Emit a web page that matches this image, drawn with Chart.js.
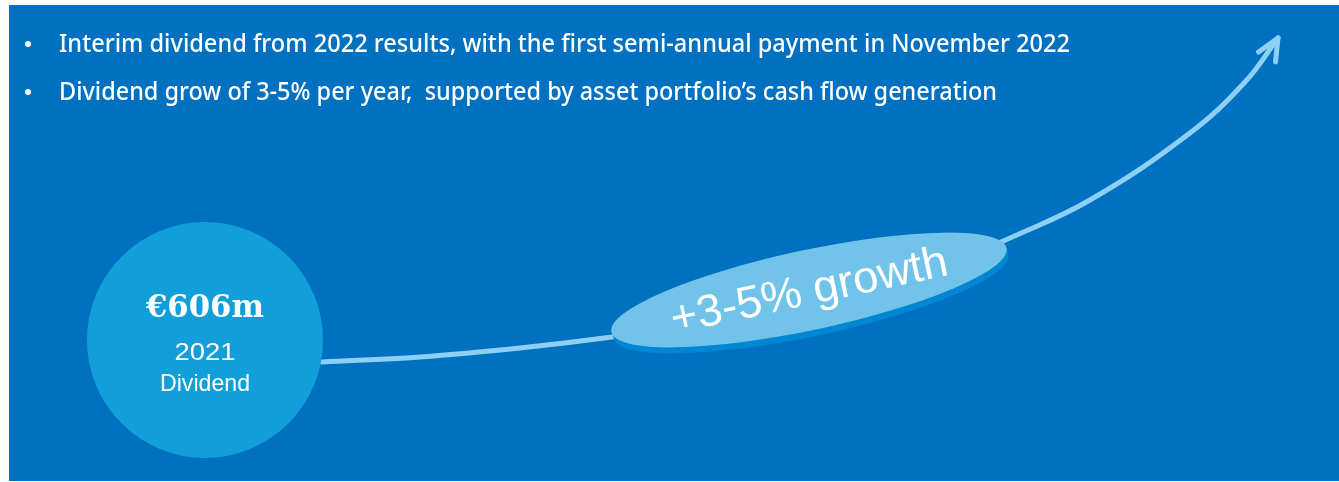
<!DOCTYPE html>
<html>
<head>
<meta charset="utf-8">
<script src="https://cdn.jsdelivr.net/npm/chart.js@4/dist/chart.umd.min.js"></script>
<style>
  html, body { margin: 0; padding: 0; background: #ffffff; }
  #wrap { width: 1339px; height: 482px; position: relative; }
</style>
</head>
<body>
<div id="wrap"><canvas id="c" width="1339" height="482"></canvas></div>
<script>
// ---- content ----
const headlines = [
  "Interim dividend from 2022 results, with the first semi-annual payment in November 2022",
  "Dividend grow of 3-5% per year,  supported by asset portfolio\u2019s cash flow generation"
];
const dividendValue = ["\u20AC606m"];
const dividendLabel = ["2021", "Dividend"];
const growthLabel = ["+3-5% growth"];

// ---- path of the growth arrow (canvas-unit coordinates) ----
const startPoint = [{ x: 205, y: 340 }];
const curveBefore = [
  { x: 322, y: 362 }, { x: 420, y: 357 }, { x: 520, y: 348 }, { x: 612, y: 337 }, { x: 660, y: 329 }
];
const curveAfter = [
  { x: 960, y: 259 }, { x: 1010, y: 238 }, { x: 1090, y: 200 },
  { x: 1190, y: 133 }, { x: 1245, y: 82 }, { x: 1278, y: 38 }
];
const growthBadge = [{ x: 809, y: 290 }];

const BG = '#0070C0';
const LINE = '#8DD0F4';

function fitText(ctx, text, x, y, font, targetW, align) {
  ctx.save();
  ctx.font = font;
  const w = ctx.measureText(text).width;
  const s = targetW ? targetW / w : 1;
  ctx.translate(x, y);
  ctx.scale(s, 1);
  ctx.textAlign = align || 'left';
  ctx.fillText(text, 0, 0);
  ctx.restore();
}

const deco = {
  id: 'deco',
  beforeDraw(chart) {
    const ctx = chart.ctx, sx = chart.scales.x, sy = chart.scales.y;
    ctx.save();
    ctx.fillStyle = '#ffffff';
    ctx.fillRect(0, 0, chart.width, chart.height);
    ctx.fillStyle = BG;
    const x0 = sx.getPixelForValue(9), y0 = sy.getPixelForValue(5);
    const x1 = sx.getPixelForValue(1339), y1 = sy.getPixelForValue(481);
    ctx.fillRect(x0, y0, x1 - x0, y1 - y0);
    ctx.restore();
  },
  afterDatasetsDraw(chart) {
    const ctx = chart.ctx, sx = chart.scales.x, sy = chart.scales.y;
    const px = v => sx.getPixelForValue(v), py = v => sy.getPixelForValue(v);

    // arrow head
    const n = curveAfter.length;
    const tip = curveAfter[n - 1];
    const tx = px(tip.x), ty = py(tip.y);
    const back = 120 * Math.PI / 180;
    const half = 0.42, len = 24;
    ctx.save();
    ctx.strokeStyle = LINE;
    ctx.lineWidth = 5;
    ctx.lineCap = 'round';
    ctx.lineJoin = 'round';
    ctx.beginPath();
    ctx.moveTo(tx + len * Math.cos(back + half), ty + len * Math.sin(back + half));
    ctx.lineTo(tx, ty);
    ctx.lineTo(tx + len * Math.cos(back - half), ty + len * Math.sin(back - half));
    ctx.stroke();
    ctx.restore();

    // growth badge ellipse
    const b = growthBadge[0];
    const bx = px(b.x), by = py(b.y);
    const ang = -12 * Math.PI / 180;
    ctx.save();
    ctx.fillStyle = '#0086D3';
    ctx.beginPath();
    ctx.ellipse(bx + 2, by + 6, 202, 40, ang, 0, Math.PI * 2);
    ctx.fill();
    ctx.fillStyle = '#71C3EA';
    ctx.beginPath();
    ctx.ellipse(bx, by, 202, 40, ang, 0, Math.PI * 2);
    ctx.fill();
    ctx.translate(bx, by);
    ctx.rotate(ang);
    ctx.fillStyle = '#ffffff';
    ctx.textBaseline = 'middle';
    fitText(ctx, growthLabel[0], 0, 2, '45px "Liberation Sans"', 282, 'center');
    ctx.restore();

    // circle texts
    const c = startPoint[0];
    const cx = px(c.x), cy = py(c.y);
    ctx.save();
    ctx.fillStyle = '#ffffff';
    ctx.textBaseline = 'alphabetic';
    fitText(ctx, dividendValue[0], cx, cy - 23, 'bold 32px "DejaVu Serif"', 118, 'center');
    fitText(ctx, dividendLabel[0], cx, cy + 20, '24px "Liberation Sans"', 61, 'center');
    fitText(ctx, dividendLabel[1], cx, cy + 51, '24px "Liberation Sans"', 90, 'center');
    ctx.restore();

    // headline bullets
    ctx.save();
    ctx.fillStyle = '#ffffff';
    const widths = [1011, 938];
    const bases = [52, 100];
    headlines.forEach((t, i) => {
      ctx.beginPath();
      ctx.arc(px(28), py(bases[i] - 8), 3, 0, Math.PI * 2);
      ctx.fill();
      fitText(ctx, t, px(59), py(bases[i]), '500 25px "Noto Sans"', widths[i], 'left');
    });
    ctx.restore();
  }
};

const lineStyle = {
  type: 'line',
  borderColor: LINE,
  borderWidth: 5,
  pointRadius: 0,
  fill: false,
  tension: 0.4,
  borderCapStyle: 'round',
  clip: false
};

new Chart(document.getElementById('c'), {
  type: 'scatter',
  data: {
    datasets: [
      {
        label: 'start',
        data: startPoint,
        pointRadius: 118,
        pointHoverRadius: 118,
        backgroundColor: '#129FD9',
        borderWidth: 0,
        clip: false
      },
      Object.assign({ label: 'before', data: curveBefore }, lineStyle),
      Object.assign({ label: 'after', data: curveAfter }, lineStyle)
    ]
  },
  options: {
    responsive: false,
    animation: false,
    events: [],
    layout: { padding: 0, autoPadding: false },
    plugins: { legend: { display: false }, tooltip: { enabled: false } },
    scales: {
      x: { type: 'linear', min: 0, max: 1339, display: false },
      y: { type: 'linear', min: 0, max: 482, reverse: true, display: false }
    }
  },
  plugins: [deco]
});
</script>
</body>
</html>
